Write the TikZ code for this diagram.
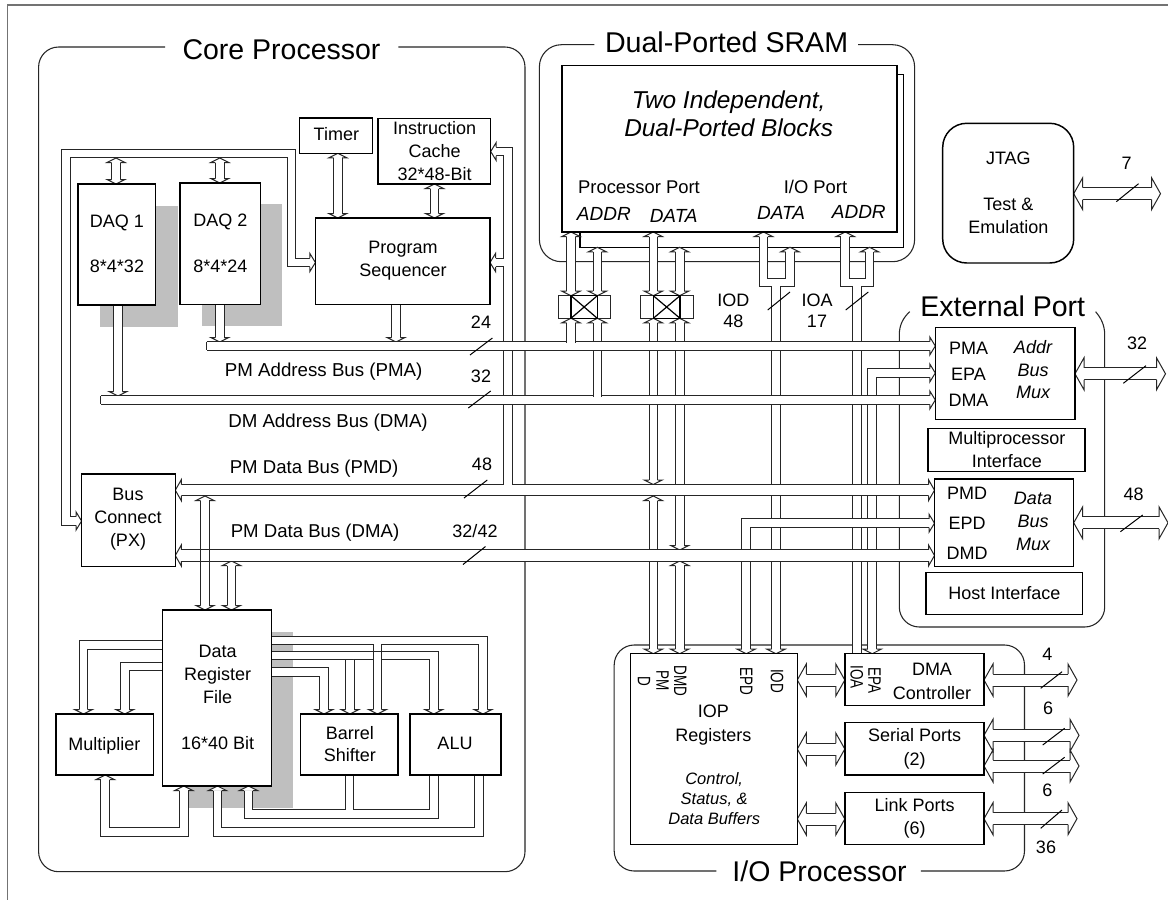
\documentclass[tikz,border=0pt]{standalone}
\usepackage{fontspec}
\setmainfont{Liberation Sans}
\usetikzlibrary{arrows.meta}
\pgfdeclarelayer{bot}
\pgfdeclarelayer{conn}
\pgfsetlayers{bot,conn,main}
\definecolor{lc}{gray}{0.15}
\definecolor{shade}{gray}{0.75}
\definecolor{framec}{gray}{0.45}
% open block arrow head with no bar across the shaft: {name}{length}{half width}{half shaft} in pt
\newcommand\mktip[4]{\pgfdeclarearrow{name=#1,
  setup code={\pgfarrowssettipend{0pt}\pgfarrowssetbackend{-#2pt}\pgfarrowssetlineend{-#2pt}\pgfarrowssetvisualbackend{-#2pt}%
    \pgfarrowshullpoint{0pt}{0pt}\pgfarrowshullpoint{-#2pt}{#3pt}\pgfarrowshullpoint{-#2pt}{-#3pt}},
  drawing code={\pgfsetdash{}{+0pt}\pgfsetlinewidth{0.75pt}\pgfsetfillcolor{white}\pgfsetstrokecolor{lc}%
    \pgfpathmoveto{\pgfqpoint{0pt}{0pt}}\pgfpathlineto{\pgfqpoint{-#2pt}{#3pt}}\pgfpathlineto{\pgfqpoint{-#2pt}{-#3pt}}\pgfpathclose\pgfusepathqfill
    \pgfpathmoveto{\pgfqpoint{-#2pt}{#4pt}}\pgfpathlineto{\pgfqpoint{-#2pt}{#3pt}}\pgfpathlineto{\pgfqpoint{0pt}{0pt}}\pgfpathlineto{\pgfqpoint{-#2pt}{-#3pt}}\pgfpathlineto{\pgfqpoint{-#2pt}{-#4pt}}\pgfusepathqstroke},
  parameters={}}}
\mktip{STip}{3.375}{6.75}{3.225}
\mktip{HTip}{4.125}{6.75}{3.225}
\mktip{MTip}{4.5}{7.875}{4.24}
\mktip{BTip}{6.75}{12}{4.5}
\newcommand\pxf[2]{\fontsize{\fpeval{#1*.75}pt}{\fpeval{#2*.75}pt}\selectfont}
\tikzset{
  box/.style={draw=black,line width=1.1pt,fill=white,inner sep=0pt,outer sep=0pt},
  thinbox/.style={draw=lc,line width=.75pt,fill=white,inner sep=0pt,outer sep=0pt},
  bus/.style={draw=lc,line width=.75pt,double=white,double distance=5.7pt},
  widebus/.style={draw=lc,line width=.75pt,double=white,double distance=7.7pt},
  bigbus/.style={draw=lc,line width=.75pt,double=white,double distance=8.25pt},
  frameline/.style={draw=framec,line width=1.1pt},
  outline/.style={draw=lc,line width=.8pt},
  shadebox/.style={fill=shade,draw=none},
  lab/.style={inner sep=0pt,outer sep=0pt,anchor=base},
  mtext/.style={inner sep=0pt,outer sep=0pt,align=center,anchor=center},
  rottext/.style={inner sep=0pt,outer sep=0pt,anchor=center,rotate=-90,font=\pxf{18}{18}},
  tickmark/.style={draw=black,line width=.75pt},
}
% \bx[opts]{name}{x1}{y1}{x2}{y2}
\newcommand\bx[6][box]{\node[#1,minimum width={(#5-#3)*0.75pt},minimum height={(#6-#4)*0.75pt}] (#2) at ({(#3+#5)/2},{(#4+#6)/2}) {};}
% \lab[opts]{name}{x}{ymid}{size}{text}
\newcommand\lab[6][]{\node[lab,font=\pxf{#5}{#5},#1] (#2) at (#3,{#4+0.358*#5}) {#6};}
% \mt[opts]{name}{x}{y}{size}{spacing}{text}
\newcommand\mt[7][]{\node[mtext,font=\pxf{#5}{#6},#1] (#2) at (#3,#4) {#7};}
\newcommand\slashm[4]{\draw[tickmark] (#1,#2) -- (#3,#4);}
\begin{document}
\begin{tikzpicture}[x=0.75pt,y=-0.75pt]
\useasboundingbox (0,0) rectangle (1168,900);
\begin{pgfonlayer}{bot}
\fill[white] (0,0) rectangle (1168,900);
\draw[frameline] (1168,5) -- (7.6,5) -- (7.6,900);
% group outlines
\draw[outline,rounded corners=20*0.75pt] (398.4,47) -- (525,47) -- (525,871.7) -- (38.6,871.7) -- (38.6,47) -- (165,47);
\draw[outline,rounded corners=22*0.75pt] (858,44.7) -- (914.6,44.7) -- (914.6,261.7) -- (539.4,261.7) -- (539.4,44.7) -- (594.4,44.7);
\draw[outline,rounded corners=20*0.75pt] (899.3,335) -- (899.3,627) -- (1104.7,627) -- (1104.7,335);
\draw[outline] (909.7,311.7) .. controls (903,318) and (899.3,325) .. (899.3,335);
\draw[outline] (1095.6,311.7) .. controls (1101,318) and (1104.7,325) .. (1104.7,335);
\draw[outline,rounded corners=20*0.75pt] (716.3,871) -- (614.2,871) -- (614.2,645) -- (1024.5,645) -- (1024.5,871) -- (920.8,871);
% shadows
\fill[shadebox] (99.9,206) rectangle (178,326.5);
\fill[shadebox] (202,204) rectangle (282,325.5);
\fill[shadebox] (188.4,631.5) rectangle (293,808);
\bx{sback}{579.9}{74.7}{903.5}{247.3}
\end{pgfonlayer}
% blocks
\bx{timer}{299.6}{118}{372.6}{153.3}
\bx{cache}{378}{118.7}{490.7}{184}
\bx{seq}{315.4}{218}{490}{304.5}
\bx{daq1}{78.2}{184}{155.6}{305}
\bx{daq2}{179.8}{183}{260.3}{304.7}
\bx{bc}{81.6}{474}{175.3}{566.5}
\bx{drf}{162.5}{610}{271.7}{786}
\bx{mul}{56}{714}{153.6}{775}
\bx{bar}{300.6}{714}{398}{775}
\bx{alu}{409.8}{714}{501}{775}
\bx{sfront}{562.1}{65.3}{896.9}{232}
\bx[thinbox]{xb1}{558}{295.7}{610.3}{318.3}
\bx{xs1}{571}{295.7}{597.3}{318.3}
\bx[thinbox]{xb2}{640.3}{295.7}{693}{318.3}
\bx{xs2}{653.3}{295.7}{680}{318.3}
\draw[black,line width=.9pt] (xs1.north west) -- (xs1.south east) (xs1.north east) -- (xs1.south west);
\draw[black,line width=.9pt] (xs2.north west) -- (xs2.south east) (xs2.north east) -- (xs2.south west);
\node[box,rounded corners=24*0.75pt,minimum width={131*0.75pt},minimum height={139.7*0.75pt}] (jtag) at (1008.2,193.15) {};
\bx{addr}{935.3}{327.7}{1075}{419.3}
\bx{multi}{927.9}{428.7}{1084.9}{471.3}
\bx{dmux}{934.5}{479}{1073.7}{566.7}
\bx{host}{925.8}{572.3}{1082.4}{614.7}
\bx{iop}{630.3}{653.7}{797.3}{844.7}
\bx{dmac}{844.8}{653.7}{984}{705.7}
\bx{serial}{844.8}{722.7}{984}{775}
\bx{link}{844.8}{792.7}{984}{844.7}
% free ends and bus levels
\coordinate (pmaT) at (0,342);
\coordinate (pmaJ) at (0,342.5);
\coordinate (dmaT) at (0,396);
\coordinate (dmaJ) at (0,396.5);
\coordinate (pmdT) at (0,484.5);
\coordinate (pmdJ) at (0,485);
\coordinate (pmdB) at (0,496);
\coordinate (dmdT) at (0,550);
\coordinate (dmdB) at (0,561);
\coordinate (dagT) at (0,158);
\coordinate (jtagout) at (1160.5,193.7);
\coordinate (addrout) at (1165.5,373.8);
\coordinate (dmuxout) at (1168,522.8);
\coordinate (dmaout) at (1077,680);
\coordinate (serout1) at (1079,735.3);
\coordinate (serout2) at (1079,766);
\coordinate (linkout) at (1077,818.7);
\begin{pgfonlayer}{conn}
% vertical buses, under the horizontal ones
\draw[bus,HTip-HTip] (seq.west |- 0,262.5) -- (291.3,262.5) -- (291.3,153.5) -- (65.8,153.5) -- (65.8,521) -- (bc.west |- 0,521);
\draw[bus,STip-STip] (116,0 |- dagT) -- (116,0 |- daq1.north);
\draw[bus,STip-STip] (219.7,0 |- dagT) -- (219.7,0 |- daq2.north);
\draw[bus,STip-STip] (337.8,0 |- timer.south) -- (337.8,0 |- seq.north);
\draw[bus,STip-STip] (434.6,0 |- cache.south) -- (434.6,0 |- seq.north);
\draw[bus,-STip] (118,0 |- daq1.south) -- (118,0 |- dmaT);
\draw[bus,-STip] (219.7,0 |- daq2.south) -- (219.7,0 |- pmaT);
\draw[bus,-STip] (396,0 |- seq.south) -- (396,0 |- pmaT);
\draw[bus,HTip-] (cache.east |- 0,151.5) -- (508,151.5) -- (508,490);
\draw[bus,HTip-] (seq.east |- 0,262.5) -- (504.2,262.5);
\draw[bus,STip-STip] (204.9,0 |- pmdB) -- (204.9,0 |- drf.north);
\draw[bus,STip-STip] (231.4,0 |- dmdB) -- (231.4,0 |- drf.north);
% SRAM ports
\draw[bus,STip-STip] (571,0 |- sfront.south) -- (571,0 |- xb1.north);
\draw[bus,STip-STip] (597.3,0 |- sback.south) -- (597.3,0 |- xb1.north);
\draw[bus,STip-STip] (653.3,0 |- sfront.south) -- (653.3,0 |- xb2.north);
\draw[bus,STip-STip] (679.7,0 |- sback.south) -- (679.7,0 |- xb2.north);
\draw[bus,STip-] (571,0 |- xb1.south) -- (571,346);
\draw[bus,STip-] (597.3,0 |- xb1.south) -- (597.3,400);
\draw[bus,STip-STip] (653.3,0 |- xb2.south) -- (653.3,0 |- pmdT);
\draw[bus,STip-STip] (679.7,0 |- xb2.south) -- (679.7,0 |- dmdT);
\draw[bus,STip-STip] (653.3,0 |- pmdB) -- (653.3,0 |- iop.north);
\draw[bus,STip-STip] (679.7,0 |- dmdB) -- (679.7,0 |- iop.north);
\draw[bus,STip-STip] (763.6,0 |- sfront.south) -- (763.6,282.5) -- (790,282.5) -- (790,0 |- sback.south);
\draw[bus,-STip] (776,286.3) -- (776,0 |- iop.north);
\draw[bus,STip-STip] (845.2,0 |- sfront.south) -- (845.2,282.5) -- (869.6,282.5) -- (869.6,0 |- sback.south);
\draw[bus] (857,286.3) -- (857,0 |- dmac.north);
\draw[bus,STip-HTip] (872.2,0 |- dmac.north) -- (872.2,373) -- (addr.west |- 0,373);
\draw[bus,STip-HTip] (746.2,0 |- iop.north) -- (746.2,523.2) -- (dmux.west |- 0,523.2);
% horizontal buses
\draw[bus,-HTip] (206.6,346) -- (addr.west |- 0,346);
\draw[lc,line width=.75pt] (206.6,342) -- (206.6,350);
\draw[bus,-HTip] (100.9,400) -- (addr.west |- 0,400);
\draw[lc,line width=.75pt] (100.9,396) -- (100.9,404);
\draw[widebus,MTip-MTip] (bc.east |- 0,490.2) -- (dmux.west |- 0,490.2);
\draw[widebus,MTip-MTip] (bc.east |- 0,555.5) -- (dmux.west |- 0,555.5);
% junctions into the horizontal buses
\draw[bus] (571,336) -- (571,0 |- pmaJ);
\draw[bus] (597.3,390) -- (597.3,0 |- dmaJ);
\draw[bus] (508,478) -- (508,0 |- pmdJ);
\draw[lc,line width=.75pt] (200.6,549.5) -- (200.6,561.5) (209.2,549.5) -- (209.2,561.5);
% around the data register file
\draw[bus,-STip] (drf.west |- 0,645) -- (83.5,645) -- (83.5,0 |- mul.north);
\draw[bus,-STip] (drf.west |- 0,666.5) -- (124.8,666.5) -- (124.8,0 |- mul.north);
\draw[bus,-STip] (drf.east |- 0,640.3) -- (483,640.3) -- (483,0 |- alu.north);
\draw[bus,-STip] (drf.east |- 0,655.6) -- (433.7,655.6) -- (433.7,0 |- alu.north);
\draw[bus,-STip] (drf.east |- 0,672) -- (323.9,672) -- (323.9,0 |- bar.north);
\draw[bus,-STip] (349.9,659.5) -- (349.9,0 |- bar.north);
\draw[bus,-STip] (377.4,644.1) -- (377.4,0 |- bar.north);
\draw[lc,line width=.75pt] (373,651.3) -- (382,651.3);
\draw[bus,STip-] (248.5,0 |- drf.south) -- (248.5,814) -- (433.7,814) -- (433.7,0 |- alu.south);
\draw[bus] (349.5,0 |- bar.south) -- (349.5,810.2);
\draw[bus,STip-] (217.4,0 |- drf.south) -- (217.4,831.7) -- (478.7,831.7) -- (478.7,0 |- alu.south);
\draw[bus,STip-STip] (105.2,0 |- mul.south) -- (105.2,831.7) -- (183.7,831.7) -- (183.7,0 |- drf.south);
% external links
\draw[bigbus,BTip-BTip] (jtag.east |- 0,193.7) -- (jtagout);
\draw[bigbus,BTip-BTip] (addr.east |- 0,373.8) -- (addrout);
\draw[bigbus,BTip-BTip] (dmux.east |- 0,522.8) -- (dmuxout);
\draw[bigbus,BTip-BTip] (iop.east |- 0,680) -- (dmac.west |- 0,680);
\draw[bigbus,BTip-BTip] (iop.east |- 0,749) -- (serial.west |- 0,749);
\draw[bigbus,BTip-BTip] (iop.east |- 0,819) -- (link.west |- 0,819);
\draw[bigbus,BTip-BTip] (dmac.east |- 0,680) -- (dmaout);
\draw[bigbus,BTip-BTip] (serial.east |- 0,735.3) -- (serout1);
\draw[bigbus,BTip-BTip] (serial.east |- 0,766) -- (serout2);
\draw[bigbus,BTip-BTip] (link.east |- 0,818.7) -- (linkout);
\end{pgfonlayer}
% titles
\lab{tcore}{281.5}{49}{28.5}{Core Processor}
\lab{tsram}{726.6}{42}{28.6}{Dual-Ported SRAM}
\lab{text}{1002.7}{306}{28.5}{External Port}
\lab{tio}{819.6}{871.7}{28.5}{I/O Processor}
% block texts
\lab{ttimer}{336.4}{134.5}{18}{Timer}
\mt{tcache}{434.6}{151}{18}{22.8}{Instruction\\Cache\\32*48-Bit}
\mt{tseq}{403}{261}{18}{22.8}{Program\\Sequencer}
\mt{tdaq1}{117}{243.5}{18}{22.5}{DAQ 1\\~\\8*4*32}
\mt{tdaq2}{220.4}{243}{18}{23}{DAQ 2\\~\\8*4*24}
\mt{tbc}{128}{519}{18}{23}{Bus\\Connect\\(PX)}
\mt{tdrf}{217.6}{697}{18}{23}{Data\\Register\\File\\~\\16*40 Bit}
\lab{tmul}{104.3}{744}{18}{Multiplier}
\mt{tbar}{349.9}{744}{18}{22}{Barrel\\Shifter}
\lab{talu}{455}{743}{18}{ALU}
\lab{lpma}{323.7}{370}{18.7}{PM Address Bus (PMA)}
\lab{ldma}{328}{421}{18.7}{DM Address Bus (DMA)}
\lab{lpmd}{314}{467}{18.6}{PM Data Bus (PMD)}
\lab{ldmd}{315}{531}{18.6}{PM Data Bus (DMA)}
\lab{n24}{481}{322}{18}{24}
\lab{n32}{481}{376}{18}{32}
\lab{n48}{482}{464}{18}{48}
\lab{n3242}{475}{531}{18}{32/42}
\mt[font=\pxf{24.4}{28}\itshape]{ttwo}{728.7}{114}{24.4}{28}{Two Independent,\\Dual-Ported Blocks}
\lab{tpp}{639}{187}{18.4}{Processor Port}
\lab{tiop}{815.5}{187}{18.4}{I/O Port}
\lab[font=\pxf{19}{19}\itshape]{ta1}{603.9}{214}{19}{ADDR}
\lab[font=\pxf{19}{19}\itshape]{td1}{673.7}{216}{19}{DATA}
\lab[font=\pxf{19}{19}\itshape]{td2}{781}{213}{19}{DATA}
\lab[font=\pxf{19}{19}\itshape]{ta2}{858.8}{212}{19}{ADDR}
\mt{tiod}{733.3}{310.5}{18}{21}{IOD\\48}
\mt{tioa}{817}{310.5}{18}{21}{IOA\\17}
\mt{tjtag}{1008.4}{192.5}{18}{23}{JTAG\\~\\Test \&\\Emulation}
\lab{n7}{1126.6}{163}{18}{7}
\mt{tam}{968.5}{374}{18}{26}{PMA\\EPA\\DMA}
\mt[font=\pxf{18}{22.5}\itshape]{tab}{1033}{370}{18}{22.5}{Addr\\Bus\\Mux}
\lab{n32b}{1137}{342.7}{18}{32}
\mt{tmp}{1006.8}{449.5}{18}{22.4}{Multiprocessor\\Interface}
\mt{tdm}{967}{523}{18}{30}{PMD\\EPD\\DMD}
\mt[font=\pxf{18}{23}\itshape]{tdb}{1033}{521}{18}{23}{Data\\Bus\\Mux}
\lab{n48b}{1133.6}{493.7}{18}{48}
\lab{thost}{1004.3}{592.7}{18}{Host Interface}
\mt{tiopreg}{713.4}{725}{18}{23.4}{IOP\\Registers}
\mt[font=\pxf{16.5}{19.6}\itshape]{tctl}{714.2}{798.6}{16.5}{19.6}{Control,\\Status, \&\\Data Buffers}
\mt{tdmac}{932}{681.5}{18}{23.3}{DMA\\Controller}
\mt{tser}{914.6}{748.7}{18}{24}{Serial Ports\\(2)}
\mt{tlink}{914.6}{818.3}{18}{23.4}{Link Ports\\(6)}
\lab{n4}{1047.3}{654}{18}{4}
\lab{n6a}{1048}{707.7}{18}{6}
\lab{n6b}{1047.3}{790}{18}{6}
\lab{n36}{1046}{846.7}{18}{36}
% rotated port names
\node[rottext] (vpm) at (662.6,680.5) {\scalebox{.75}[1]{PM}};
\node[rottext] (vd) at (644,681.5) {\scalebox{.75}[1]{D}};
\node[rottext] (vdmd) at (680.3,681) {\scalebox{.75}[1]{DMD}};
\node[rottext] (vepd) at (746.4,681) {\scalebox{.75}[1]{EPD}};
\node[rottext] (viod) at (777,681) {\scalebox{.75}[1]{IOD}};
\node[rottext] (vioa) at (856.8,677) {\scalebox{.75}[1]{IOA}};
\node[rottext] (vepa) at (874.5,680) {\scalebox{.75}[1]{EPA}};
% bus width ticks
\slashm{470}{355}{492.4}{338}
\slashm{468.3}{408}{490.7}{391}
\slashm{464}{498}{487.3}{480}
\slashm{463}{564.5}{485.5}{546.5}
\slashm{767.7}{310}{790}{292}
\slashm{845.7}{310}{868.3}{292}
\slashm{1116.3}{201.7}{1138.6}{183.7}
\slashm{1123.3}{383.3}{1146}{365.7}
\slashm{1120.4}{531.7}{1142.7}{515}
\slashm{1040.7}{688.3}{1062.1}{671.7}
\slashm{1042.7}{745}{1064.6}{728.3}
\slashm{1042.7}{774}{1064.6}{757.3}
\slashm{1040.7}{828.3}{1062}{810}
\end{tikzpicture}
\end{document}
